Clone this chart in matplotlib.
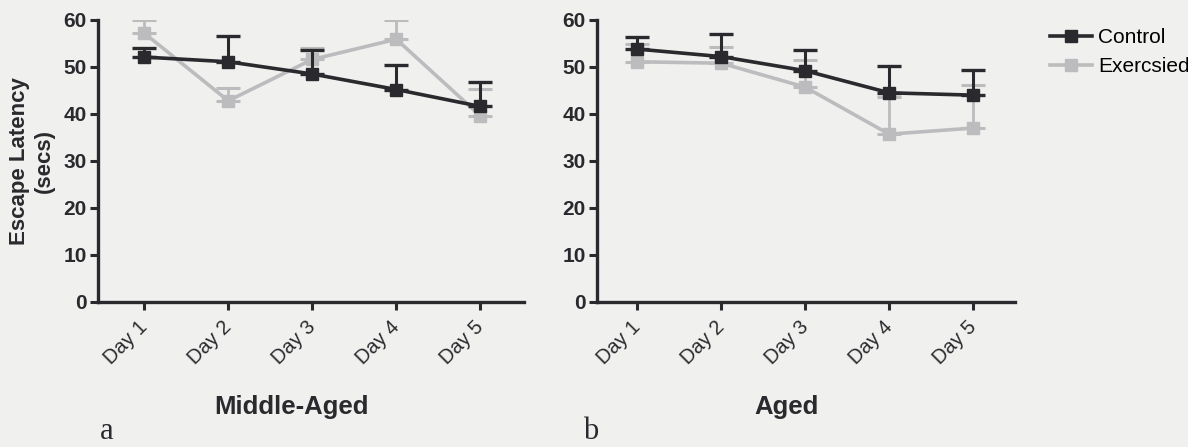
import numpy as np
import matplotlib
matplotlib.use('Agg')
import matplotlib.pyplot as plt
from matplotlib.lines import Line2D

plt.rcParams['font.family'] = ['Liberation Sans', 'DejaVu Sans']

days = ['Day 1', 'Day 2', 'Day 3', 'Day 4', 'Day 5']

# middle-aged
mid_control = [52.1, 51.1, 48.5, 45.2, 41.6]
mid_control_err = [1.9, 5.5, 5.1, 5.2, 5.3]
mid_exercised = [57.2, 42.8, 51.6, 55.9, 39.6]
mid_exercised_err = [2.8, 2.7, 2.4, 4.1, 5.7]

# aged
aged_control = [53.8, 52.2, 49.2, 44.5, 44.0]
aged_control_err = [2.5, 4.8, 4.3, 5.6, 5.4]
aged_exercised = [51.1, 50.8, 45.7, 35.7, 37.0]
aged_exercised_err = [3.8, 3.5, 5.8, 8.0, 9.2]

dark = '#2a2a2e'
grey = '#bcbcbe'
bg = '#f0f0ef'

fig = plt.figure(figsize=(11.88, 4.47), dpi=100, facecolor=bg)
ax1 = fig.add_axes([0.0825, 0.3244, 0.3586, 0.631])
ax2 = fig.add_axes([0.5025, 0.3244, 0.352, 0.631])

x = np.arange(1, 6)


def draw(ax, ctrl, ctrl_err, ex, ex_err, xlim):
    ax.set_facecolor('none')
    ax.errorbar(x, ex, yerr=[np.zeros(5), ex_err], color=grey, lw=2.6,
                marker='s', ms=8, capsize=8.5, capthick=2.2, elinewidth=2.0,
                zorder=2)
    ax.errorbar(x, ctrl, yerr=[np.zeros(5), ctrl_err], color=dark, lw=2.6,
                marker='s', ms=8, capsize=8.5, capthick=2.4, elinewidth=2.2,
                zorder=3)
    ax.set_ylim(0, 60)
    ax.set_xlim(*xlim)
    ax.set_yticks([0, 10, 20, 30, 40, 50, 60])
    ax.set_xticks(x)
    ax.set_xticklabels(days, rotation=45, ha='right', va='center',
                       rotation_mode='anchor', fontsize=14.5, color=dark)
    for t in ax.get_yticklabels():
        t.set_fontweight('bold')
        t.set_fontsize(15)
        t.set_color(dark)
    for s in ['top', 'right']:
        ax.spines[s].set_visible(False)
    for s in ['left', 'bottom']:
        ax.spines[s].set_linewidth(2.4)
        ax.spines[s].set_color(dark)
    ax.tick_params(axis='both', width=2.2, length=6, color=dark, pad=2)
    ax.tick_params(axis='x', pad=10)


draw(ax1, mid_control, mid_control_err, mid_exercised, mid_exercised_err, (0.45, 5.52))
draw(ax2, aged_control, aged_control_err, aged_exercised, aged_exercised_err, (0.52, 5.5))

ax1.set_ylabel('Escape Latency\n(secs)', fontsize=16, fontweight='bold',
               color=dark, labelpad=6, linespacing=1.25)
ax1.set_xlabel('Middle-Aged', fontsize=18.5, fontweight='bold', color=dark)
ax2.set_xlabel('Aged', fontsize=18.5, fontweight='bold', color=dark)
for ax in (ax1, ax2):
    ax.xaxis.label.set_va('center')
    ax.xaxis.set_label_coords(0.454, -0.372)

handles = [Line2D([], [], color=dark, lw=2.6, marker='s', ms=8),
           Line2D([], [], color=grey, lw=2.6, marker='s', ms=8)]
fig.legend(handles, ['Control', 'Exercsied'], loc='upper left',
           bbox_to_anchor=(0.877, 0.955), frameon=False, fontsize=15,
           handlelength=2.0, handletextpad=0.3, labelspacing=0.45,
           borderaxespad=0)

fig.text(0.084, 0.018, 'a', family='Liberation Serif', fontsize=22, color=dark)
fig.text(0.491, 0.018, 'b', family='Liberation Serif', fontsize=22, color=dark)

fig.savefig('out.png', dpi=100, facecolor=bg)
